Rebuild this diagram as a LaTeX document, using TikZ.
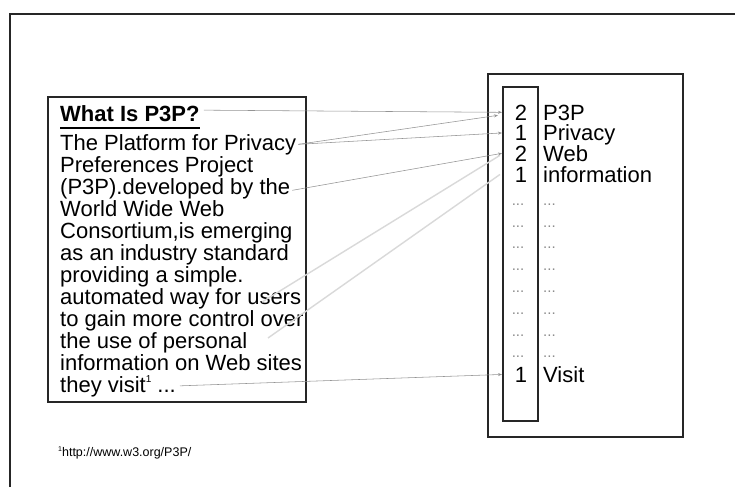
\documentclass[tikz,border=0pt]{standalone}
\usepackage{fontspec}
\setmainfont{Liberation Sans}
\usetikzlibrary{arrows.meta,calc}
\newcommand\fnmark{\raisebox{10pt}{\fontsize{10}{10}\selectfont 1}}
\begin{document}
\begin{tikzpicture}[x=1pt,y=-1pt,
  frame/.style={draw=black!85,line width=1.6pt},
  boxline/.style={draw=black!85,line width=1.8pt,inner sep=0pt,anchor=north west},
  body/.style={anchor=base west,inner sep=0pt,font=\fontsize{22}{22}\selectfont},
  cnt/.style={anchor=base,inner sep=0pt,font=\fontsize{22}{22}\selectfont},
  word/.style={anchor=base west,inner sep=0pt,font=\fontsize{22}{22}\selectfont},
  dotcell/.style={anchor=base,inner sep=0pt,text=black!45,font=\fontsize{15}{15}\selectfont},
  dotword/.style={anchor=base west,inner sep=0pt,text=black!45,font=\fontsize{15}{15}\selectfont},
  link/.style={draw=black!42,line width=0.55pt,-{Stealth[length=4pt,width=3pt]}},
  faint/.style={draw=black!15,line width=1.4pt}
]
\useasboundingbox (0,0) rectangle (735,487);
\fill[white] (0,0) rectangle (735,487);

% slide frame, running off the right and bottom edges
\draw[frame] (10,487) -- (10,14) -- (735,14);

% document box
\node[boxline,minimum width=258pt,minimum height=305pt] (doc) at (47,96) {};
\node[anchor=base west,inner sep=0pt,font=\bfseries\fontsize{22}{22}\selectfont] (title) at (60,121) {What Is P3P?};
\draw[line width=1.6pt] ($(title.base west)+(0,7)$) -- ($(title.base east)+(0,7)$);

\def\ell{.{}.{}.}
\foreach \i/\txt in {
  1/The Platform for Privacy,
  2/Preferences Project,
  3/(P3P).developed by the,
  4/World Wide Web,
  5/{Consortium,is emerging},
  6/as an industry standard,
  7/providing a simple.,
  8/automated way for users,
  9/to gain more control over,
  10/the use of personal,
  11/information on Web sites,
  12/{they visit\fnmark\ \ell}}
  \node[body] (t\i) at (60,{150+22*(\i-1)}) {\txt};

% term-frequency vector
\node[boxline,minimum width=195pt,minimum height=363pt] (vec) at (487,73) {};
\node[boxline,minimum width=35pt,minimum height=334pt] (inner) at (502,86) {};

\foreach \i/\y/\n/\w in {1/120/2/P3P,2/140.5/1/Privacy,3/161/2/Web,4/182/1/information}{
  \node[cnt] (r\i) at (521,\y) {\n};
  \node[word] (w\i) at (543,\y) {\w};
}
\foreach \i/\y in {5/205,6/227,7/248,8/270,9/292,10/314,11/336,12/357}{
  \node[dotcell] (r\i) at (518,\y) {\ell};
  \node[dotword] (w\i) at (543,\y) {\ell};
}
\node[cnt] (r13) at (521,382) {1};
\node[word] (w13) at (543,382) {Visit};

% word-to-count links
\coordinate (la) at (262,302);
\coordinate (lb) at (268,338);
\draw[faint] (la) -- ($(inner.west |- r3)+(-2,2)$);
\draw[faint] (lb) -- ($(inner.west |- r4)+(-2,0)$);
\draw[link] ($(title.east)+(4,-3)$) -- (inner.west |- r1);
\draw[link] ($(t1.east)+(2,0)$) -- ($(inner.west |- r1)+(-4,3)$);
\draw[link] ($(t1.east)+(2,0)$) -- (inner.west |- r2);
\draw[link] ($(t3.east)+(2,2)$) -- ($(inner.west |- r3)+(0,0)$);
\draw[link] ($(t12.east)+(4,0)$) -- (inner.west |- r13);

% footnote
\node[anchor=base west,inner sep=0pt,font=\fontsize{12.5}{12.5}\selectfont] (fn) at (58,456) {\raisebox{5pt}{\fontsize{7}{7}\selectfont 1}http://www.w3.org/P3P/};
\end{tikzpicture}
\end{document}
